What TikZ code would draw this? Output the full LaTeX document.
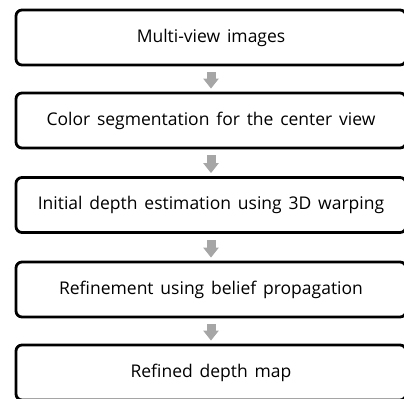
\documentclass[tikz,border=0pt]{standalone}
\usepackage{fontspec}
\setmainfont[WordSpace={1.5,1,1}]{Open Sans}
\usetikzlibrary{arrows.meta}
\definecolor{arrowgray}{RGB}{166,166,166}
\tikzset{
  stage/.style={draw, line width=2.8bp, rounded corners=6bp,
    minimum width=390bp, minimum height=55bp, inner sep=0pt,
    font=\fontsize{17.5bp}{20bp}\selectfont},
  flow/.style={draw=arrowgray, line width=9bp,
    -{Triangle[width=15bp,length=10bp,fill=arrowgray]},
    shorten <=6bp, shorten >=3bp}
}
\begin{document}
\begin{tikzpicture}[x=1bp,y=-1bp]
      \clip (0,0) rectangle (404,399);
      \useasboundingbox (0,0) rectangle (404,399);
      \draw
        (211,37.5) node[stage] (0){Multi-view images}
        (211,120.5) node[stage] (1){Color segmentation for the center view}
        (211,205) node[stage] (2){Initial depth estimation using 3D warping}
        (211,289.5) node[stage] (3){Refinement using belief propagation}
        (211,372.5) node[stage] (4){Refined depth map};
      \begin{scope}[flow]
        \draw (0) to (1);
        \draw (1) to (2);
        \draw (2) to (3);
        \draw (3) to (4);
      \end{scope}
    \end{tikzpicture}
\end{document}
